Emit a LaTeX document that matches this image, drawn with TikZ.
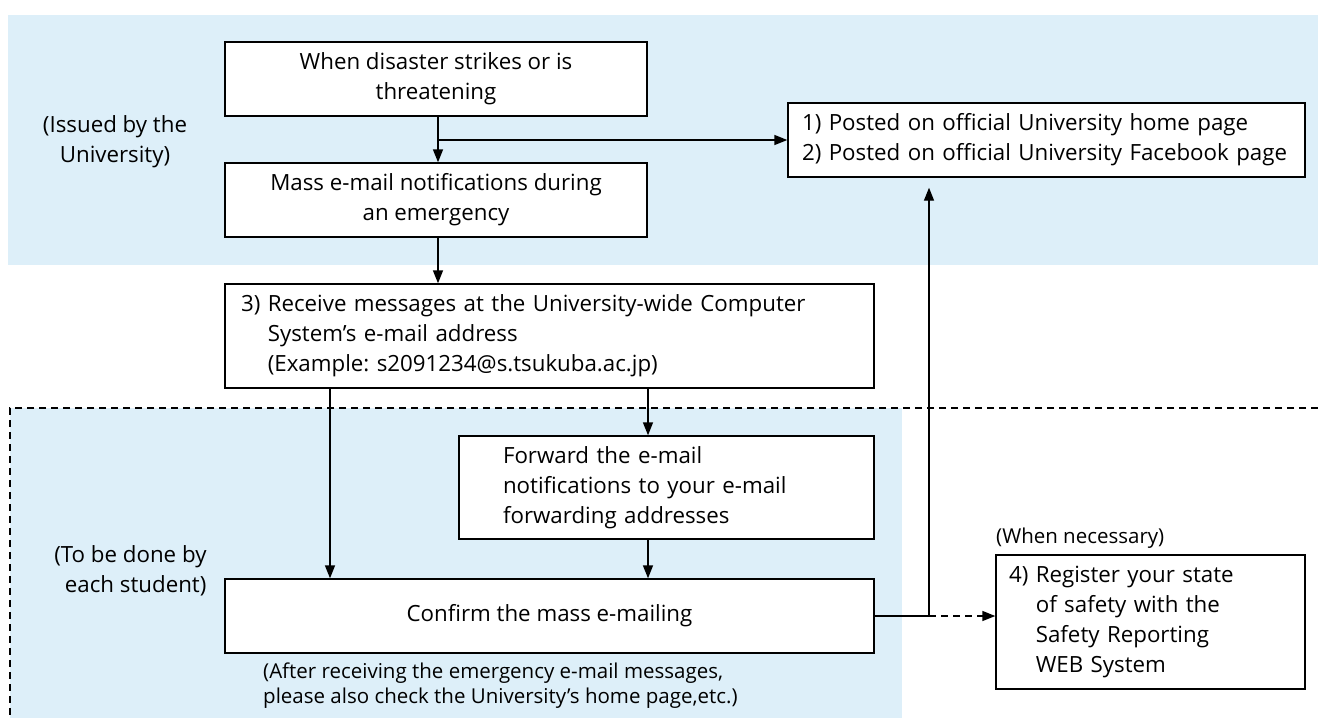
\documentclass[tikz,border=0pt]{standalone}
\usepackage{fontspec}
\setmainfont{Open Sans}
\usetikzlibrary{arrows.meta}
\definecolor{bandblue}{RGB}{221,239,249}
\frenchspacing
\begin{document}
\begin{tikzpicture}[x=1pt,y=-1pt,
  box/.style={draw,line width=1.4pt,fill=white,inner sep=0pt},
  arr/.style={-{Triangle[length=13pt,width=10pt]},line width=1.4pt},
  dsh/.style={dash pattern=on 7pt off 5pt},
  txt/.style={font=\fontsize{22.3}{30}\selectfont},
  small/.style={font=\fontsize{20.5}{25}\selectfont}]
\useasboundingbox (0,0) rectangle (1318,718);
\fill[bandblue] (8,15) rectangle (1318,265);
\fill[bandblue] (10,408) rectangle (902,718);
\draw[line width=1.4pt, dsh] (1318,408) -- (10,408) -- (10,718);

\node[box, txt, minimum width=422pt, minimum height=74pt, align=center] (a) at (436,79) {When disaster strikes or is\\threatening};
\node[box, txt, minimum width=422pt, minimum height=74pt, align=center] (b) at (436,200) {Mass e-mail notifications during\\an emergency};
\node[box, txt, minimum width=517pt, minimum height=74pt, text width=489pt, inner xsep=14pt, align=left] (p) at (1046.5,140) {1) Posted on official University home page\\2) Posted on official University Facebook page};
\node[box, txt, minimum width=649pt, minimum height=104pt, text width=617pt, inner xsep=16pt, align=left] (r3) at (549.5,336) {3) Receive messages at the University-wide Computer\\\phantom{3) }System's e-mail address\\\phantom{3) }(Example: s2091234@s.tsukuba.ac.jp)};
\node[box, txt, minimum width=415pt, minimum height=103pt, text width=371pt, inner xsep=22pt, align=left] (f) at (666.5,487.5) {\hspace*{22pt}Forward the e-mail\\\hspace*{22pt}notifications to your e-mail\\\hspace*{22pt}forwarding addresses};
\node[box, txt, minimum width=649pt, minimum height=74pt, align=center] (c) at (549.5,616) {Confirm the mass e-mailing};
\node[box, txt, minimum width=309pt, minimum height=134pt, text width=283pt, inner xsep=13pt, align=left] (r4) at (1150.5,622) {4) Register your state\\\phantom{4) }of safety with the\\\phantom{4) }Safety Reporting\\\phantom{4) }WEB System};

\node[txt, align=center] (l1) at (115,142) {(Issued by the\\University)};
\node[txt, align=right, anchor=east] (l2) at (210,571) {(To be done by\\each student)};
\node[small, anchor=west, inner sep=0pt] (l3) at (996,538) {(When necessary)};
\node[small, align=left, anchor=west, inner sep=0pt] (l4) at (263,686) {(After receiving the emergency e-mail messages,\\please also check the University's home page,etc.)};

\coordinate (j) at (438,140);
\coordinate (xl) at (330,0);
\coordinate (xr) at (648,0);
\coordinate (k) at (929,616);

\draw[arr] (a.south -| j) -- (b.north -| j);
\draw[arr] (j) -- (p.west);
\draw[arr] (b.south -| j) -- (r3.north -| j);
\draw[arr] (r3.south -| xl) -- (c.north -| xl);
\draw[arr] (r3.south -| xr) -- (f.north -| xr);
\draw[arr] (f.south -| xr) -- (c.north -| xr);
\draw[line width=1.4pt] (c.east) -- (k);
\draw[arr, shorten >=10pt] (k) -- (p.south -| k);
\draw[arr, dsh] (k) -- (k -| r4.west);
\end{tikzpicture}
\end{document}
